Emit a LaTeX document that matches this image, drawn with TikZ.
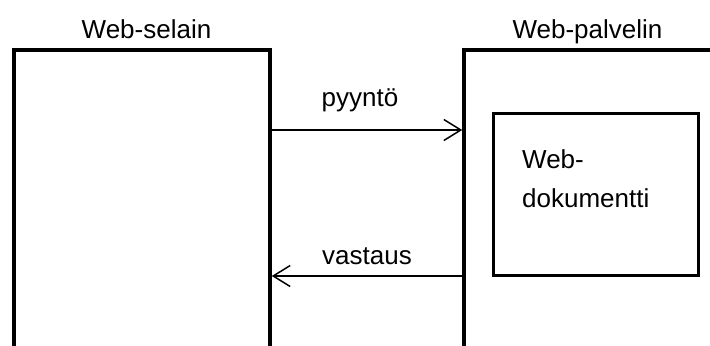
\documentclass[tikz,border=0pt]{standalone}
\usepackage{fontspec}
\setmainfont{Liberation Sans}
\usetikzlibrary{arrows.meta, positioning}

\begin{document}
\begin{tikzpicture}[x=1bp,y=-1bp,
  teksti/.style={font=\fontsize{26bp}{39bp}\selectfont, inner sep=0pt},
  laatikko/.style={draw, line width=3.5bp, minimum height=370bp},
  nuoli/.style={-{Straight Barb[length=17bp,width=21bp]}, line width=1.5bp}]
  \useasboundingbox (0,0) rectangle (710,345);
  \clip (0,0) rectangle (710,345);
  % laatikot
  \node[laatikko, minimum width=256bp] (selain) at (142,235) {};
  \node[laatikko, minimum width=336bp] (palvelin) at (632,235) {};
  \node[draw, line width=3bp, minimum width=205bp, minimum height=162bp] (doku) at (595.5,194) {};
  % tekstit
  \node[teksti, anchor=base] (selainotsikko) at (146.5,38) {Web-selain};
  \node[teksti, anchor=base] (palvelinotsikko) at (587.5,38) {Web-palvelin};
  \node[teksti, anchor=base west, align=left] (dokuteksti) at (522,207) {Web-\\dokumentti};
  % nuolet
  \draw[nuoli] ([yshift=105bp]selain.east) -- node[teksti, above=23bp, xshift=-7bp, text depth=0pt] (pyynto) {pyyntö} ([yshift=105bp]palvelin.west);
  \draw[nuoli] ([yshift=-41bp]palvelin.west) -- node[teksti, above=11bp, text depth=0pt] (vastaus) {vastaus} ([yshift=-41bp]selain.east);
\end{tikzpicture}
\end{document}
